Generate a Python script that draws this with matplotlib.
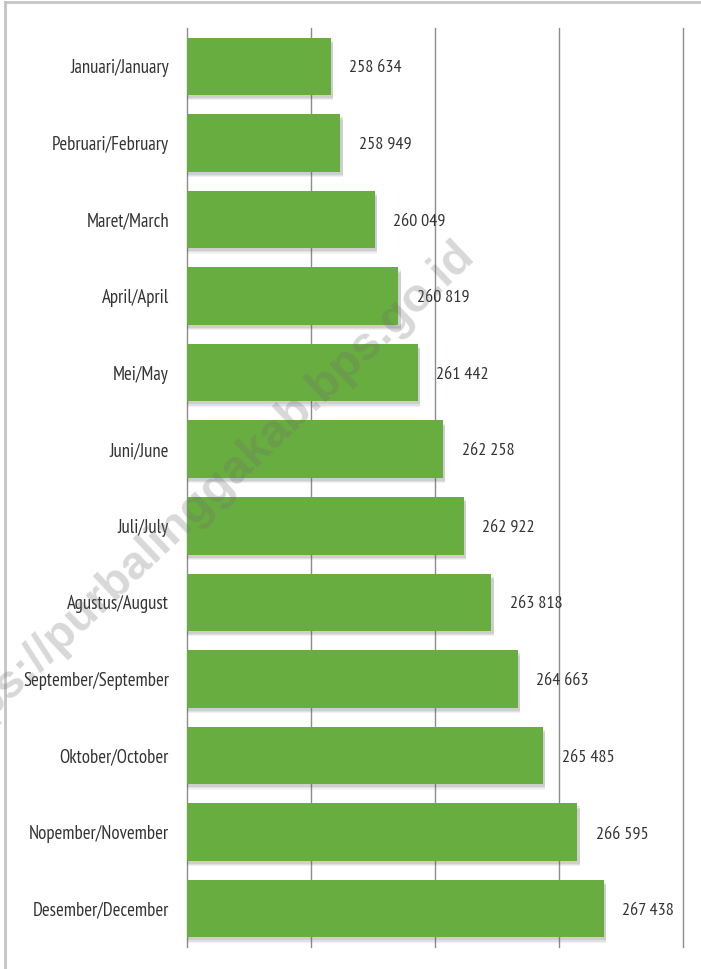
import matplotlib
matplotlib.use("Agg")
import matplotlib.pyplot as plt
from matplotlib.lines import Line2D
import numpy as np

months = ["Januari/January", "Pebruari/February", "Maret/March", "April/April",
          "Mei/May", "Juni/June", "Juli/July", "Agustus/August",
          "September/September", "Oktober/October", "Nopember/November",
          "Desember/December"]
values = [258634, 258949, 260049, 260819, 261442, 262258, 262922, 263818,
          264663, 265485, 266595, 267438]
value_labels = ["258 634", "258 949", "260 049", "260 819", "261 442", "262 258",
                "262 922", "263 818", "264 663", "265 485", "266 595", "267 438"]
xticks = [254000, 258000, 262000, 266000, 270000]

FONT = ["PT Sans Narrow", "Fira Sans Condensed", "Barlow Semi Condensed", "DejaVu Sans"]
plt.rcParams['font.family'] = FONT

W, H = 701, 969
fig = plt.figure(figsize=(W/100, H/100), dpi=100)
ax = fig.add_axes([187/W, 1-947/H, (683-187)/W, (947-28)/H])

base = xticks[0]
y = np.arange(len(months))
h = 0.75
# soft drop shadow
for off, a in [(0.07, 0.08), (0.055, 0.10), (0.04, 0.13)]:
    ax.barh(y + off, np.array(values) - base + 70, left=base, height=h,
            color='#555555', alpha=a, zorder=1, linewidth=0)
ax.barh(y, np.array(values) - base, left=base, height=h, color='#68ad3f',
        zorder=2, linewidth=0)

for yi, v, lab in zip(y, values, value_labels):
    ax.annotate(lab, xy=(v, yi), xytext=(13.5, -1.5), textcoords='offset points',
                ha='left', va='center', fontsize=13, color='#333333')

ax.set_xlim(xticks[0], xticks[-1])
ax.set_ylim(len(months)-0.5, -0.5)
for xt in xticks:
    ax.axvline(xt, color='#8c8c8c', linewidth=1.0, zorder=0, clip_on=False)
ax.set_xticks([])
ax.set_yticks(y)
ax.set_yticklabels(months, fontsize=13.5, color='#333333')
ax.tick_params(axis='y', length=0, pad=13)
for s in ax.spines.values():
    s.set_visible(False)

# figure frame
fig.add_artist(Line2D([5/W, 5/W], [0, 1-2/H], color='#c4c4c4', linewidth=2,
                      transform=fig.transFigure))
fig.add_artist(Line2D([5/W, 1], [1-2/H, 1-2/H], color='#c4c4c4', linewidth=2,
                      transform=fig.transFigure))

# watermark
fig.text(468/W, 1-248/H, "https://purbalinggakab.bps.go.id", rotation=43.5,
         rotation_mode='anchor', ha='right', va='center', fontsize=34,
         fontweight='bold', color='#707070', alpha=0.27,
         family=["Liberation Sans", "DejaVu Sans"], zorder=10)

fig.savefig("out.png", dpi=100)
